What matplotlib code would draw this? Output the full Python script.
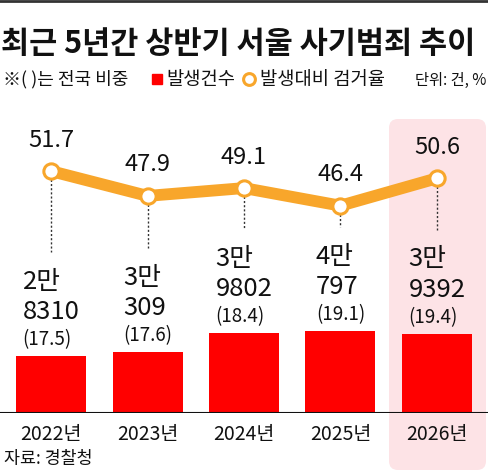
import matplotlib
matplotlib.use('Agg')
import matplotlib.pyplot as plt
from matplotlib.patches import FancyBboxPatch
from matplotlib.lines import Line2D
from matplotlib.offsetbox import TextArea, VPacker, AnnotationBbox

# Data
years = ['2022년', '2023년', '2024년', '2025년', '2026년']
cases = [28310, 30309, 39802, 40797, 39392]
share = [17.5, 17.6, 18.4, 19.1, 19.4]
arrest_rate = [51.7, 47.9, 49.1, 46.4, 50.6]

RED = '#FF0000'
ORANGE = '#F8A62B'
PINK = '#FDE3E6'
INK = '#111111'
FONT = ['Liberation Sans Narrow', 'Noto Sans CJK KR', 'DejaVu Sans']
plt.rcParams['font.family'] = FONT
KR = ['Noto Sans CJK KR']

W, H = 488, 473
fig = plt.figure(figsize=(W / 100, H / 100), dpi=100)


def fx(px):
    return px / W


def fy(py):
    return 1 - py / H


# frame line on top
fig.add_artist(Line2D([0, 1], [fy(1), fy(1)], color='#333333', lw=2,
                      transform=fig.transFigure))

# title, legend row
fig.text(fx(1), fy(44), '최근 5년간 상반기 서울 사기범죄 추이', fontsize=22,
         fontweight='bold', color=INK, va='center', ha='left', family=KR)
fig.text(fx(3), fy(79), '※( )는 전국 비중', fontsize=13, color=INK,
         va='center', ha='left', family=KR)
fig.add_artist(Line2D([fx(157)], [fy(79)], marker='s', ms=7.5, color=RED,
                      mec=RED, transform=fig.transFigure))
fig.text(fx(166), fy(79), '발생건수', fontsize=13.5, color=INK,
         va='center', ha='left', family=KR)
fig.add_artist(Line2D([fx(249)], [fy(79)], marker='o', ms=8.5, mfc='white',
                      mec=ORANGE, mew=2.2, transform=fig.transFigure))
fig.text(fx(260), fy(79), '발생대비 검거율', fontsize=13.5, color=INK,
         va='center', ha='left', family=KR)
fig.text(fx(486), fy(80), '단위: 건, %', fontsize=11, color=INK,
         va='center', ha='right', family=KR)

# highlight of the last year
fig.add_artist(FancyBboxPatch((3.89, 0.03), 0.97, 3.51,
                              boxstyle='round,pad=0,rounding_size=0.09',
                              fc=PINK, ec='none', zorder=-1,
                              transform=fig.dpi_scale_trans))

# bars
ax = fig.add_axes([0, fy(413), 1, (413 - 118) / H])
ax.set_facecolor('none')
x = range(len(years))
ax.bar(x, cases, width=0.726, color=RED, zorder=2)
ax.set_xlim(-0.53, 4.53)
ax.set_ylim(0, 146600)
ax.axhline(0, color=INK, lw=1.5, zorder=3)
for s in ax.spines.values():
    s.set_visible(False)
ax.set_yticks([])
ax.set_xticks(list(x))
ax.set_xticklabels(years, fontsize=14, color=INK)
ax.tick_params(axis='x', length=0, pad=8)

# rate line
ax2 = ax.twinx()
ax2.set_ylim(14.6, 59.85)
ax2.set_yticks([])
for s in ax2.spines.values():
    s.set_visible(False)
ax2.plot(x, arrest_rate, color=ORANGE, lw=8.5, solid_capstyle='round',
         zorder=3)
ax2.plot(x, arrest_rate, 'o', ms=11, mfc='white', mec=ORANGE, mew=2.2,
         zorder=4)

for i, (v, s, r) in enumerate(zip(cases, share, arrest_rate)):
    ax2.annotate(f'{r:.1f}', (i, r), xytext=(0, 31), textcoords='offset pixels',
                 ha='center', va='center', fontsize=17, color=INK)
    # dotted leader from marker down to the label
    bot = ax.transData.transform((i, v))
    y_bot = ax2.transData.inverted().transform((bot[0], bot[1] + 104))[1]
    ax2.plot([i, i], [r, y_bot], color='#333333', lw=1, ls=(0, (1.5, 1.5)),
             zorder=2)
    lines = [TextArea(f'{v // 10000}만', textprops=dict(fontsize=18.5, color=INK)),
             TextArea(f'{v % 10000}', textprops=dict(fontsize=18.5, color=INK)),
             TextArea(f'({s:.1f})', textprops=dict(fontsize=13.5, color=INK))]
    box = VPacker(children=lines, align='left', pad=0, sep=3)
    ab = AnnotationBbox(box, (i, v), xybox=(0, 6), boxcoords='offset pixels',
                        box_alignment=(0.5, 0), frameon=False, pad=0)
    ax.add_artist(ab)

fig.text(fx(4), fy(459), '자료: 경찰청', fontsize=12.5, color=INK,
         va='center', ha='left', family=KR)

fig.savefig('out.png', dpi=100)
